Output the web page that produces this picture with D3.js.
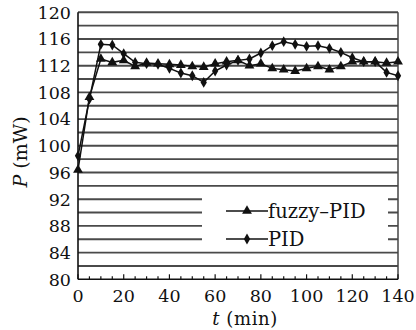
<!DOCTYPE html>
<html>
<head>
<meta charset="utf-8">
<script src="https://cdn.jsdelivr.net/npm/d3@7/dist/d3.min.js"></script>
<style>
  body { margin: 0; background: #fff; }
  svg { display: block; }
  text { font-family: "DejaVu Serif", "Liberation Serif", serif; fill: #111; }
</style>
</head>
<body>
<svg id="chart" width="416" height="330"></svg>
<script>
// time in minutes, one point every 5 min
const times = d3.range(0, 141, 5);
const fuzzyPID = [96.4, 107.3, 113.0, 112.5, 112.8, 111.9, 112.4, 112.3, 112.2, 112.1,
                  111.9, 111.8, 112.3, 112.6, 112.8, 112.0, 112.3, 111.6, 111.4, 111.2,
                  111.6, 111.9, 111.4, 111.9, 112.6, 112.6, 112.6, 112.4, 112.6];
const pid = [98.5, 107.0, 115.2, 115.1, 113.8, 112.5, 112.3, 112.2, 111.6, 110.9,
             110.5, 109.5, 111.2, 112.1, 112.8, 113.0, 113.9, 115.0, 115.6, 115.2,
             114.9, 115.0, 114.6, 114.0, 113.2, 112.6, 112.6, 111.0, 110.5];
const xTicks = [0, 20, 40, 60, 80, 100, 120, 140];
const yTicks = [80, 84, 88, 92, 96, 100, 104, 108, 112, 116, 120];
const seriesNames = ["fuzzy\u2013PID", "PID"];

const svg = d3.select("#chart");
const x = d3.scaleLinear().domain([0, 140]).range([78, 398]);
const y = d3.scaleLinear().domain([80, 120]).range([279.3, 12.3]);

// horizontal grid lines every 2 mW
svg.append("g").selectAll("line")
  .data(d3.range(82, 121, 2))
  .join("line")
  .attr("x1", x(0)).attr("x2", x(140))
  .attr("y1", d => y(d)).attr("y2", d => y(d))
  .attr("stroke", "#4a4a4a").attr("stroke-width", 1.9);

// right border
svg.append("line")
  .attr("x1", x(140)).attr("x2", x(140))
  .attr("y1", y(120)).attr("y2", y(80))
  .attr("stroke", "#444").attr("stroke-width", 1.5);

// legend box (covers grid lines)
svg.append("rect")
  .attr("x", 202).attr("y", 191)
  .attr("width", 186).attr("height", 56)
  .attr("fill", "#fff");

// axes
svg.append("line")
  .attr("x1", x(0)).attr("x2", x(0))
  .attr("y1", y(120)).attr("y2", y(80))
  .attr("stroke", "#111").attr("stroke-width", 1.6);
svg.append("line")
  .attr("x1", x(0)).attr("x2", x(140))
  .attr("y1", y(80)).attr("y2", y(80))
  .attr("stroke", "#111").attr("stroke-width", 1.6);

// x ticks pointing up into the plot
svg.append("g").selectAll("line")
  .data(d3.range(0, 141, 5))
  .join("line")
  .attr("x1", d => x(d)).attr("x2", d => x(d))
  .attr("y1", y(80)).attr("y2", d => y(80) - (d % 20 === 0 ? 5 : 3))
  .attr("stroke", "#111").attr("stroke-width", 1.2);

svg.append("g").selectAll("text")
  .data(xTicks)
  .join("text")
  .attr("x", d => x(d)).attr("y", 302)
  .attr("text-anchor", "middle")
  .attr("font-size", 17.5)
  .text(d => d);

svg.append("g").selectAll("text")
  .data(yTicks)
  .join("text")
  .attr("x", 71).attr("y", d => y(d))
  .attr("dy", "0.36em")
  .attr("text-anchor", "end")
  .attr("font-size", 17.5)
  .text(d => d);

// axis titles
const xt = svg.append("text")
  .attr("x", 245).attr("y", 325)
  .attr("text-anchor", "middle")
  .attr("font-size", 18)
  .attr("letter-spacing", 0.6);
xt.append("tspan").attr("font-style", "italic").text("t");
xt.append("tspan").text(" (min)");

const yt = svg.append("text")
  .attr("transform", "translate(27,152) rotate(-90)")
  .attr("text-anchor", "middle")
  .attr("font-size", 19);
yt.append("tspan").attr("font-style", "italic").text("P");
yt.append("tspan").text(" (mW)");

// series
const line = d3.line().x((d, i) => x(times[i])).y(d => y(d));
const tri = d3.symbol().type(d3.symbolTriangle).size(42);
const dia = d3.symbol().type(d3.symbolDiamond).size(34);

function drawSeries(vals, sym) {
  svg.append("path")
    .attr("d", line(vals))
    .attr("fill", "none")
    .attr("stroke", "#111")
    .attr("stroke-width", 1.5);
  svg.append("g").selectAll("path")
    .data(vals)
    .join("path")
    .attr("transform", (d, i) => `translate(${x(times[i])},${y(d)})`)
    .attr("d", sym())
    .attr("fill", "#111");
}
drawSeries(pid, dia);
drawSeries(fuzzyPID, tri);

// legend
const legendRows = [{ name: seriesNames[0], sym: tri, cy: 211 }, { name: seriesNames[1], sym: dia, cy: 239 }];
legendRows.forEach(r => {
  svg.append("line")
    .attr("x1", 226).attr("x2", 268)
    .attr("y1", r.cy).attr("y2", r.cy)
    .attr("stroke", "#111").attr("stroke-width", 1.5);
  svg.append("path")
    .attr("transform", `translate(247,${r.cy})`)
    .attr("d", r.sym())
    .attr("fill", "#111");
  svg.append("text")
    .attr("x", 268).attr("y", r.cy)
    .attr("dy", "0.36em")
    .attr("font-size", 19.5)
    .text(r.name);
});
</script>
</body>
</html>
